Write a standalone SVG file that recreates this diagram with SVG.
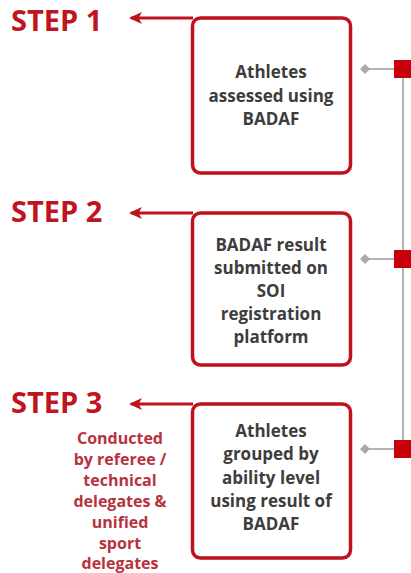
<svg xmlns="http://www.w3.org/2000/svg" width="411" height="573" viewBox="0 0 411 573">
<style>
.box{fill:#fff;stroke:#c0111c;stroke-width:3.5}
.step{font-family:"Open Sans","Liberation Sans",sans-serif;font-weight:bold;font-size:29px;fill:#c0141e}
.t{font-family:"Open Sans","Liberation Sans",sans-serif;font-weight:bold;font-size:17px;fill:#3d3d3d;text-anchor:middle}
.note{font-family:"Open Sans","Liberation Sans",sans-serif;font-weight:bold;font-size:16px;fill:#b8323e;text-anchor:middle}
.arr{stroke:#c0111c;stroke-width:3;fill:none}
.gl{stroke:#b4b4b4;stroke-width:2;fill:none}
.dia{fill:#aaaaaa}
.sq{fill:#c8000c}
</style>
<defs>
<marker id="ah" markerWidth="13" markerHeight="13" viewBox="0 0 13 13" refX="11" refY="6.5" orient="auto" markerUnits="userSpaceOnUse">
<path d="M13,6.5 L0,0.5 L3.5,6.5 L0,12.5 Z" fill="#c0111c"/>
</marker>
</defs>
<g id="connectors">
<path class="arr" d="M193,18 H131" marker-end="url(#ah)"/>
<path class="arr" d="M193,213 H131" marker-end="url(#ah)"/>
<path class="arr" d="M193,404 H131" marker-end="url(#ah)"/>
<line class="gl" x1="403" y1="78" x2="403" y2="442"/>
<line class="gl" x1="365" y1="69" x2="395" y2="69"/>
<line class="gl" x1="365" y1="259" x2="395" y2="259"/>
<line class="gl" x1="365" y1="449" x2="395" y2="449"/>
<path class="dia" d="M360,69 L365,64 L370,69 L365,74 Z"/>
<path class="dia" d="M360,259 L365,254 L370,259 L365,264 Z"/>
<path class="dia" d="M360,449 L365,444 L370,449 L365,454 Z"/>
<rect class="sq" x="394" y="60" width="18" height="18"/>
<rect class="sq" x="394" y="250" width="18" height="18"/>
<rect class="sq" x="394" y="440" width="18" height="18"/>
</g>
<g id="step1">
<text class="step" x="11" y="31">STEP 1</text>
</g>
<g id="step2">
<text class="step" x="11" y="222">STEP 2</text>
</g>
<g id="step3">
<text class="step" x="11" y="413">STEP 3</text>
</g>
<g id="box1">
<rect class="box" x="192.5" y="18" width="158" height="155" rx="8"/>
<text class="t" x="271" y="78">Athletes</text>
<text class="t" x="271" y="102">assessed using</text>
<text class="t" x="271" y="125">BADAF</text>
</g>
<g id="box2">
<rect class="box" x="192.5" y="213" width="158" height="152" rx="8"/>
<text class="t" x="271" y="251">BADAF result</text>
<text class="t" x="271" y="274">submitted on</text>
<text class="t" x="271" y="297">SOI</text>
<text class="t" x="271" y="320">registration</text>
<text class="t" x="271" y="343">platform</text>
</g>
<g id="box3">
<rect class="box" x="192.5" y="404" width="158" height="154" rx="8"/>
<text class="t" x="271" y="437">Athletes</text>
<text class="t" x="271" y="460">grouped by</text>
<text class="t" x="271" y="484">ability level</text>
<text class="t" x="271" y="507">using result of</text>
<text class="t" x="271" y="530">BADAF</text>
</g>
<g id="note3">
<text class="note" x="120" y="444">Conducted</text>
<text class="note" x="120" y="465">by referee /</text>
<text class="note" x="120" y="486">technical</text>
<text class="note" x="120" y="507">delegates &amp;</text>
<text class="note" x="120" y="528">unified</text>
<text class="note" x="120" y="549">sport</text>
<text class="note" x="120" y="569">delegates</text>
</g>
</svg>
